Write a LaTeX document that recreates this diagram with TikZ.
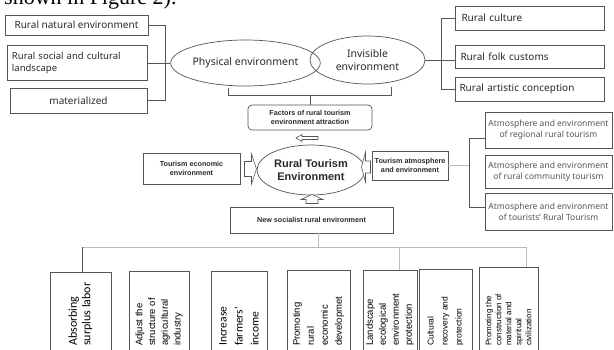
\documentclass[tikz,border=0pt]{standalone}
\usepackage{fontspec}
\setmainfont{Noto Sans}
\newfontfamily\serifft{Liberation Serif}
\newfontfamily\calft{Carlito}
\newfontfamily\arialft{Liberation Sans}
\usetikzlibrary{shapes.geometric, positioning, calc}
\definecolor{linegray}{HTML}{555555}
\definecolor{faintgray}{HTML}{BBBBBB}
\definecolor{textgray}{HTML}{2A2A2A}
\definecolor{softgray}{HTML}{555555}

\tikzset{
  box/.style={draw=linegray, line width=0.7pt, inner sep=2pt, text=textgray},
  oval/.style={ellipse, draw=linegray, line width=0.7pt, inner sep=0pt, align=center, text=textgray},
  link/.style={draw=linegray, line width=0.7pt},
  faint/.style={draw=faintgray, line width=0.6pt},
  vbox/.style={box, anchor=north, minimum height=100pt},
  vtext/.style={rotate=90, anchor=west, align=left, text=black, inner sep=0pt},
  boldsmall/.style={font=\arialft\bfseries\fontsize{7.2}{9}\selectfont, align=center},
  % length / shaft width / head width / head length
  pics/hollowarrow/.style args={#1/#2/#3/#4}{code={
    \draw[linegray, line width=0.6pt, fill=white]
      (-#1/2,-#2/2) -- (#1/2-#4,-#2/2) -- (#1/2-#4,-#3/2) -- (#1/2,0)
      -- (#1/2-#4,#3/2) -- (#1/2-#4,#2/2) -- (-#1/2,#2/2) -- cycle;
  }},
}

\begin{document}
\begin{tikzpicture}[x=1pt, y=-1pt]
  \useasboundingbox (0,0) rectangle (614,349);
  \clip (0,0) rectangle (614,349);
  \fill[white] (0,0) rectangle (614,349);

  % running text above the figure
  \node[font=\serifft\fontsize{22}{22}\selectfont, anchor=base west, inner sep=0pt] (caption) at (4,4) {shown in Figure 2).};

  % physical side
  \node[box, minimum width=143pt, minimum height=20pt, font=\fontsize{10}{12}\selectfont] (natural) at (76.5,25) {Rural natural environment};
  \node[box, minimum width=140pt, minimum height=35pt, text width=130pt, align=left, font=\fontsize{9.5}{12}\selectfont] (social) at (77,63) {Rural social and cultural\\landscape};
  \node[box, minimum width=137pt, minimum height=25pt, font=\fontsize{10}{12}\selectfont] (material) at (78.5,100.5) {materialized};
  \node[oval, minimum width=125pt, minimum height=46pt, font=\fontsize{10.5}{12}\selectfont] (phys) at (245.5,63) {Physical environment};
  \draw[link] (natural.east) -- ++(17,0) |- (material.east);
  \draw[link] (social.east) -- (phys.west);

  % invisible side
  \node[oval, minimum width=115pt, minimum height=48pt, font=\fontsize{10.5}{13}\selectfont] (invis) at (367.5,60) {Invisible\\environment};
  \node[box, minimum width=149pt, minimum height=24pt, text width=136pt, align=left, font=\fontsize{10}{12}\selectfont] (culture) at (529.5,18) {Rural culture};
  \node[box, minimum width=149pt, minimum height=23pt, text width=138pt, align=left, font=\fontsize{10}{12}\selectfont] (folk) at (529.5,57) {Rural folk customs};
  \node[box, minimum width=149pt, minimum height=24pt, text width=140pt, align=left, font=\fontsize{10}{12}\selectfont] (artistic) at (529.5,89) {Rural artistic conception};
  \draw[link] (culture.west) -- ++(-13,0) |- (artistic.west);
  \draw[link] (invis.east) -- (folk.west |- invis.east);

  % attraction factors
  \coordinate (braceL) at (228,88);
  \coordinate (braceR) at (391,87);
  \node[box, rounded corners=4pt, minimum width=124pt, minimum height=25pt, boldsmall] (factors) at (310,117.5) {Factors of rural tourism\\environment attraction};
  \draw[link] (braceL) -- ++(0,7) -| (braceR);
  \draw[link] (factors.north) -- ++(0,-10);
  \pic (arrTop) [rotate=180] at (307,138) {hollowarrow=22/3/7/6};

  % core
  \node[oval, minimum width=108pt, minimum height=50pt, font=\arialft\bfseries\fontsize{11}{13}\selectfont] (core) at (311,170) {Rural Tourism\\Environment};
  \node[box, minimum width=97pt, minimum height=31pt, boldsmall] (econ) at (191.5,168.5) {Tourism economic\\environment};
  \pic (arrLeft) at (250.5,169) {hollowarrow=12/15/30/5};
  \node[box, minimum width=76pt, minimum height=29pt, boldsmall] (atmos) at (410,165.5) {Tourism atmosphere\\and environment};
  \pic (arrRight) [rotate=180] at (366,167) {hollowarrow=9/12/30/4};
  \pic (arrUp) [rotate=90] at (312,199) {hollowarrow=9/12/22/5};
  \node[box, minimum width=163pt, minimum height=26pt, boldsmall] (newsoc) at (311.5,220) {New socialist rural environment};

  % atmosphere group
  \node[box, minimum width=127pt, minimum height=36pt, align=center, text=softgray, font=\fontsize{8.5}{11}\selectfont] (regional) at (548.5,130) {Atmosphere and environment\\of regional rural tourism};
  \node[box, minimum width=127pt, minimum height=33pt, align=center, text=softgray, font=\fontsize{8.5}{11}\selectfont] (community) at (548.5,171.5) {Atmosphere and environment\\of rural community tourism};
  \node[box, minimum width=127pt, minimum height=37pt, align=center, text=softgray, font=\fontsize{8.5}{11}\selectfont] (tourists) at (548.5,211.5) {Atmosphere and environment\\of tourists' Rural Tourism};
  \draw[faint] (atmos.east) -- ++(22,0);
  \draw[link] ([yshift=-8pt]regional.west) -- ++(-15,0) |- ([yshift=4.5pt]tourists.west);

  % effects
  \node[vbox, minimum width=61pt] (labor) at (80.5,272) {};
  \node[vbox, minimum width=60pt] (industry) at (159,271) {};
  \node[vbox, minimum width=56pt] (income) at (239,271) {};
  \node[vbox, minimum width=63pt] (econdev) at (318.5,270) {};
  \node[vbox, minimum width=54pt] (ecology) at (390,270) {};
  \node[vbox, minimum width=53pt] (recovery) at (445.5,269) {};
  \node[vbox, minimum width=59pt] (civil) at (508.5,267) {};

  \coordinate (base) at (0,346);
  \node[vtext, font=\calft\fontsize{12}{13.5}\selectfont] (laborTxt) at (labor |- base) {Absorbing\\surplus labor};
  \node[vtext, font=\arialft\fontsize{9.5}{12.7}\selectfont] (industryTxt) at (industry |- base) {Adjust the\\structure of\\agricultural\\industry};
  \node[vtext, font=\calft\fontsize{11.5}{16}\selectfont] (incomeTxt) at (income |- base) {Increase\\farmers'\\income};
  \node[vtext, font=\arialft\fontsize{9.5}{14}\selectfont] (econdevTxt) at (econdev |- base) {Promoting\\rural\\economic\\developmet};
  \node[vtext, font=\arialft\fontsize{9.5}{13}\selectfont] (ecologyTxt) at (ecology |- base) {Landscape\\ecological\\environment\\protection};
  \node[vtext, font=\arialft\fontsize{8.5}{14}\selectfont] (recoveryTxt) at (recovery |- base) {Cultural\\recovery and\\protection};
  \node[vtext, font=\arialft\fontsize{8}{10}\selectfont] (civilTxt) at (civil |- base) {Promoting the\\construction of\\material and\\spiritual\\civilization};

  \coordinate (busL) at (82,247);
  \coordinate (busM) at (399,247);
  \coordinate (busR) at (526,247);
  \draw[faint] ([xshift=6.5pt]newsoc.south) -- ++(0,14);
  \draw[faint] (busL) -- (busR);
  \draw[link] (busL) -- (busL |- labor.north);
  \draw[faint] (busM) -- (busM |- ecology.north);
  \draw[faint] (busR) -- (busR |- civil.north);
\end{tikzpicture}
\end{document}
